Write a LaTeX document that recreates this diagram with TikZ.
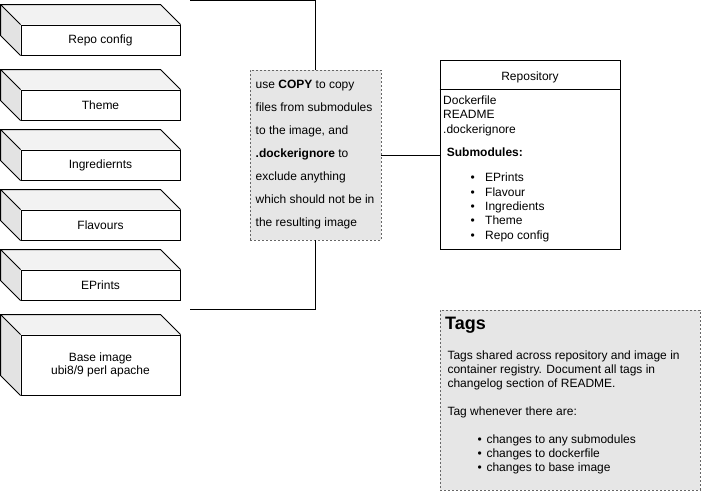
\documentclass[tikz,border=0pt]{standalone}
\usepackage{fontspec}
\setmainfont{Liberation Sans}
\usetikzlibrary{calc}
\newcommand\fs{\fontsize{12pt}{14pt}\selectfont}
\definecolor{topc}{HTML}{F2F2F2}
\definecolor{sidec}{HTML}{E3E3E3}
\definecolor{notefill}{HTML}{E6E6E6}
\definecolor{noteline}{HTML}{666666}
\tikzset{
  frontbox/.style={draw=black, line width=1pt, fill=white, minimum width=159pt, inner sep=0pt, align=center, font=\fontsize{12pt}{13.5pt}\selectfont},
  topface/.style={fill=topc},
  sideface/.style={fill=sidec},
  edgeline/.style={draw=black, line width=1pt, line join=miter},
  notebox/.style={fill=notefill, draw=noteline, line width=0.8pt, dash pattern=on 2pt off 2pt},
  conn/.style={draw=black, line width=1pt},
  txt/.style={inner sep=0pt, anchor=base west, font=\fs},
  bul/.style={inner sep=0pt, anchor=base, font=\fs},
}
\newcommand\mycube[1]{%
  \fill[topface] ($(#1.north west)+(-20,-20)$) -- ($(#1.north east)+(-20,-20)$) -- (#1.north east) -- (#1.north west) -- cycle;
  \fill[sideface] ($(#1.north west)+(-20,-20)$) -- (#1.north west) -- (#1.south west) -- ($(#1.south west)+(-20,-20)$) -- cycle;
  \draw[edgeline] (#1.north west) -- ++(-20,-20) -- ($(#1.north east)+(-20,-20)$) -- (#1.north east);
  \draw[edgeline] ($(#1.north west)+(-20,-20)$) -- ($(#1.south west)+(-20,-20)$) -- (#1.south west);
}
\begin{document}
\begin{tikzpicture}[x=1pt,y=-1pt]
\useasboundingbox (0,0) rectangle (701,491);

% cubes (front faces as nodes)
\node[frontbox, minimum height=30pt] (repocfg) at (100.5,40) {Repo config};
\mycube{repocfg}
\node[frontbox, minimum height=30pt] (theme) at (100.5,105) {Theme};
\mycube{theme}
\node[frontbox, minimum height=30pt] (ingr) at (100.5,165) {Ingrediernts};
\mycube{ingr}
\node[frontbox, minimum height=30pt] (flav) at (100.5,225) {Flavours};
\mycube{flav}
\node[frontbox, minimum height=30pt] (eprints) at (100.5,285) {EPrints};
\mycube{eprints}
\node[frontbox, minimum height=60pt] (base) at (100.5,365) {Base image\\ubi8/9 perl apache};
\mycube{base}

% note
\node[notebox, minimum width=131pt, minimum height=170pt, inner sep=0pt] (note) at (315.5,155) {};
\node[inner sep=0pt, anchor=west, align=left, font=\fontsize{12pt}{23pt}\selectfont] (notetext) at (255.5,155)
{use \textbf{COPY} to copy\\files from submodules\\to the image, and\\\textbf{.dockerignore} to\\exclude anything\\which should not be in\\the resulting image};

% bracket connectors
\coordinate (topend) at (190,0.5);
\coordinate (botend) at (190,309.5);
\draw[conn] (topend) -| (note.north);
\draw[conn] (note.south) |- (botend);

% repository
\node[draw=black, line width=1pt, minimum width=180pt, minimum height=189pt, inner sep=0pt] (repo) at (530,154.5) {};
\draw[conn] ([yshift=-30pt]repo.north west) -- ([yshift=-30pt]repo.north east);
\draw[conn] (note.east) -- (note.east -| repo.west);
\node[bul] (repotitle) at (530,80) {Repository};
\node[txt] (r1) at (443,104.2) {Dockerfile};
\node[txt] (r2) at (443,118.7) {README};
\node[txt] (r3) at (443,133.2) {.dockerignore};
\node[txt] (r4) at (446.7,156.4) {\textbf{Submodules:}};
\foreach \y/\t [count=\i] in {181.7/EPrints,196.1/Flavour,210.5/Ingredients,224.9/Theme,239.3/Repo config}{
  \node[bul] (rb\i) at (472.7,\y) {•};
  \node[txt] (ri\i) at (485,\y) {\t};
}

% tags
\node[notebox, minimum width=260pt, minimum height=180pt, inner sep=0pt] (tags) at (570,400) {};
\node[inner sep=0pt, anchor=base west, font=\fontsize{18pt}{20pt}\selectfont\bfseries] (tagtitle) at (445,329.7) {Tags};
\node[txt] (t1) at (447.3,359.9) {Tags shared across repository and image in};
\node[txt] (t2) at (447.3,373.5) {container registry. Document all tags in};
\node[txt] (t3) at (447.3,387.0) {changelog section of README.};
\node[txt] (t4) at (447.3,415.9) {Tag whenever there are:};
\foreach \y/\t [count=\i] in {443.5/changes to any submodules,457.7/changes to dockerfile,471.9/changes to base image}{
  \node[bul] (tb\i) at (479.7,\y) {•};
  \node[txt] (ti\i) at (486.3,\y) {\t};
}
\end{tikzpicture}
\end{document}
